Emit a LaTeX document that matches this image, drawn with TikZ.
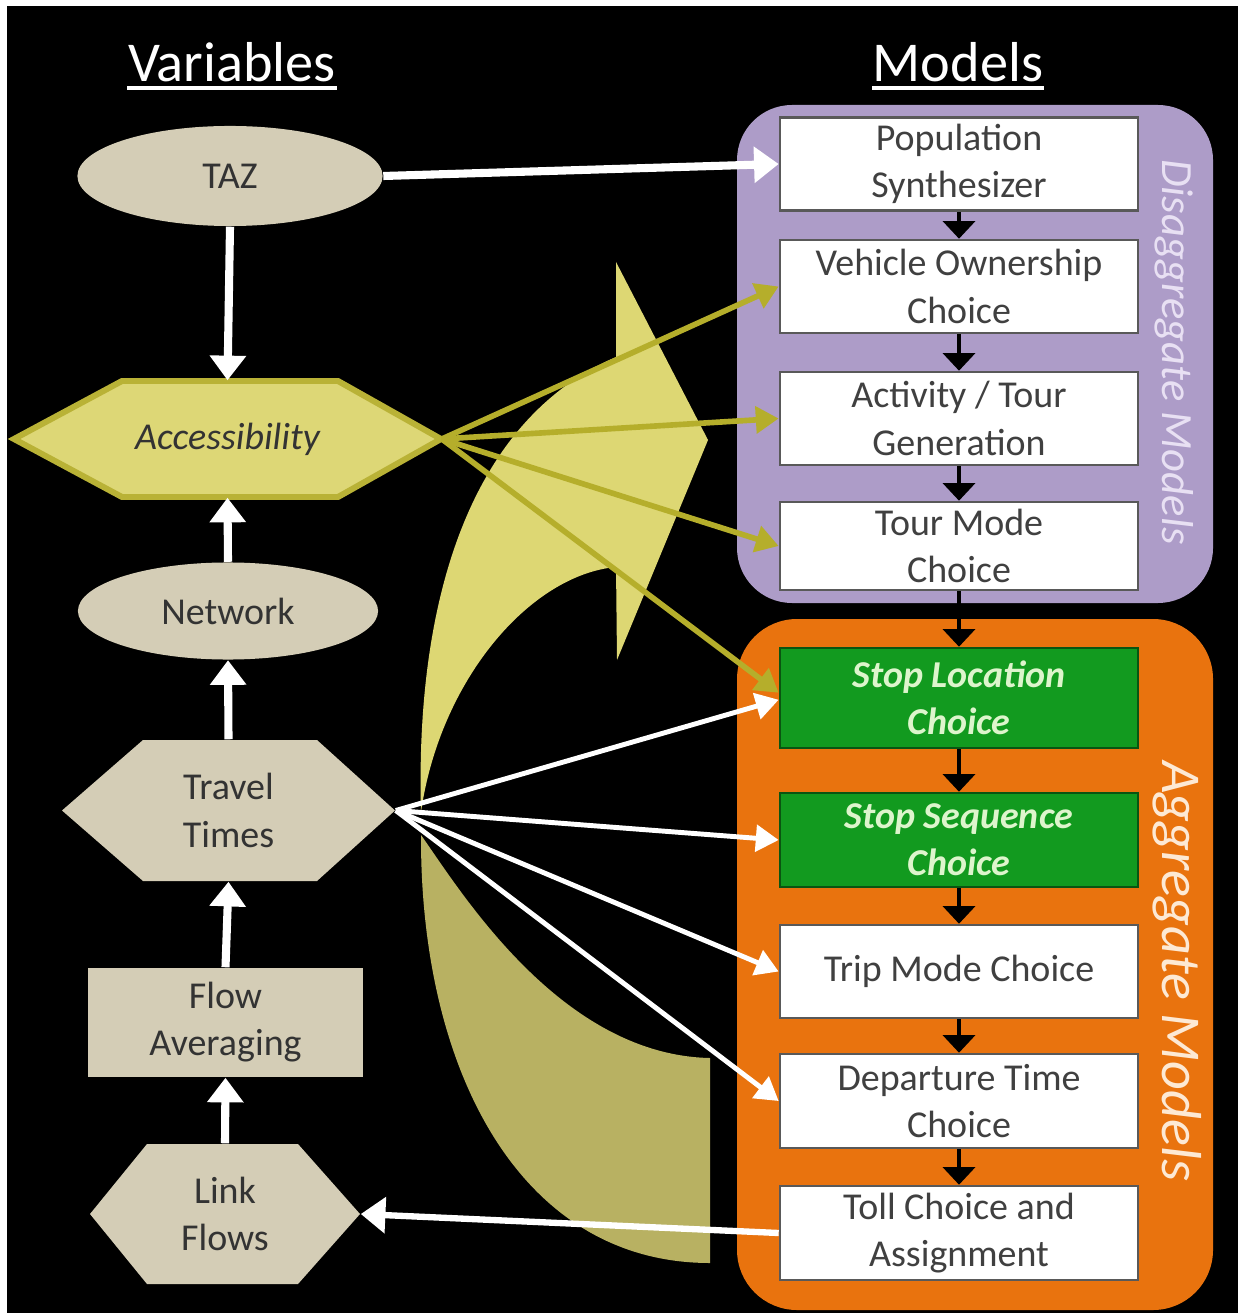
\documentclass[tikz,border=0pt]{standalone}
\usepackage{fontspec}
\setmainfont{Carlito}
\definecolor{tanfill}{HTML}{D4CDB6}
\definecolor{accfill}{HTML}{DDD776}
\definecolor{accline}{HTML}{B9B236}
\definecolor{olive}{HTML}{B5AE2B}
\definecolor{swooshlight}{HTML}{DDD773}
\definecolor{swooshdark}{HTML}{B8B162}
\definecolor{disagg}{HTML}{AD9CC8}
\definecolor{disaggtext}{HTML}{E8E0F3}
\definecolor{agg}{HTML}{E9730E}
\definecolor{aggtext}{HTML}{FDE9D4}
\definecolor{modelgreen}{HTML}{129A1F}
\definecolor{greentext}{HTML}{DDF5CC}
\definecolor{boxline}{HTML}{595959}
\definecolor{boxtext}{HTML}{404040}
\definecolor{vartext}{HTML}{333333}
\usetikzlibrary{arrows.meta, shapes.geometric}

\begin{document}
\begin{tikzpicture}[x=0.01cm, y=-0.01cm,
  title/.style={text=white, font=\fontsize{16}{19}\selectfont, inner sep=0pt, anchor=base},
  modelbox/.style={draw=boxline, line width=0.7pt, fill=white, minimum width=3.58cm, minimum height=0.93cm,
    inner sep=0pt, align=center, text=boxtext, font=\fontsize{10.8}{13.4}\selectfont},
  greenbox/.style={modelbox, fill=modelgreen, draw=modelgreen!55!black, text=greentext,
    font=\fontsize{10.8}{13.4}\selectfont\bfseries\itshape},
  varnode/.style={inner sep=0pt, align=center, text=vartext, font=\fontsize{10.8}{13.4}\selectfont},
  fatarrow/.style={white, line width=2.3pt, -{Triangle[width=10pt,length=7pt]}},
  thinarrow/.style={white, line width=1.4pt, -{Triangle[width=7.5pt,length=6.5pt]}},
  olivearrow/.style={olive, line width=1.6pt, -{Triangle[width=7.5pt,length=6.5pt]}},
  steparrow/.style={black, line width=1.4pt, -{Triangle[width=9pt,length=5pt]}}
]
  \useasboundingbox (0,0) rectangle (1238,1313);
  \fill[white] (0,0) rectangle (1238,1313);
  \fill[black] (7,6) rectangle (1238,1313);

  % big curved arrow behind everything
  \fill[swooshlight] (616,262) -- (708,440) -- (617,660) -- (616,567)
    .. controls (530,575) and (440,680) .. (421,812)
    .. controls (415,600) and (470,420) .. (616,357) -- cycle;
  \fill[swooshdark] (421,835) .. controls (460,890) and (560,1055) .. (710,1058)
    -- (710,1263) .. controls (520,1263) and (420,1070) .. (421,835) -- cycle;

  % titles
  \node[title] (vars) at (232,82) {Variables};
  \draw[white, line width=0.9pt] ([yshift=-1.7pt]vars.base west) -- ([yshift=-1.7pt]vars.base east);
  \node[title] (mods) at (958,82) {Models};
  \draw[white, line width=0.9pt] ([yshift=-1.7pt]mods.base west) -- ([yshift=-1.7pt]mods.base east);

  % model groups
  \fill[disagg, rounded corners=0.55cm] (737,105) rectangle (1213,603);
  \fill[agg, rounded corners=0.6cm] (737,619) rectangle (1213,1310);
  \node[rotate=-90, text=disaggtext, font=\fontsize{12.7}{15}\selectfont\itshape] (dlabel) at (1174,352) {Disaggregate Models};
  \node[rotate=-90, text=aggtext, font=\fontsize{16}{19}\selectfont\itshape] (alabel) at (1177,971) {Aggregate Models};

  % model boxes
  \node[modelbox] (pop) at (959,164) {Population\\Synthesizer};
  \node[modelbox] (veh) at (959,286.5) {Vehicle Ownership\\Choice};
  \node[modelbox] (act) at (959,418.5) {Activity / Tour\\Generation};
  \node[modelbox, minimum height=0.88cm] (tmode) at (959,546) {Tour Mode\\Choice};
  \node[greenbox, minimum height=1cm] (sloc) at (959,698) {Stop Location\\Choice};
  \node[greenbox, minimum height=0.94cm] (sseq) at (959,840) {Stop Sequence\\Choice};
  \node[modelbox] (trip) at (959,971.5) {Trip Mode Choice};
  \node[modelbox, minimum height=0.94cm] (dep) at (959,1101) {Departure Time\\Choice};
  \node[modelbox, minimum height=0.94cm] (toll) at (959,1233) {Toll Choice and\\Assignment};

  % variables (hexagons drawn first, text nodes on top)
  \filldraw[fill=accfill, draw=accline, line width=1.7pt]
    (14,439) -- (122,381) -- (338,381) -- (441,439) -- (338,497) -- (122,497) -- cycle;
  \fill[tanfill] (62,810.5) -- (143,740) -- (317,740) -- (395,810.5) -- (317,881) -- (143,881) -- cycle;
  \fill[tanfill] (90,1214) -- (147,1144) -- (298,1144) -- (360,1214) -- (298,1284) -- (147,1284) -- cycle;

  \node[varnode, fill=tanfill, ellipse, minimum width=3.05cm, minimum height=1.0cm] (taz) at (230,176) {TAZ};
  \node[varnode, minimum width=4.27cm, minimum height=1.16cm, font=\fontsize{10.8}{13.4}\selectfont\itshape]
    (acc) at (227.5,439) {Accessibility};
  \node[varnode, fill=tanfill, ellipse, minimum width=3.0cm, minimum height=0.97cm] (net) at (228,611) {Network};
  \node[varnode, minimum width=3.33cm, minimum height=1.41cm] (tt) at (228.5,810.5) {Travel\\Times};
  \node[varnode, fill=tanfill, minimum width=2.75cm, minimum height=1.09cm] (flow) at (225.5,1022.5) {Flow\\Averaging};
  \node[varnode, minimum width=2.70cm, minimum height=1.40cm] (link) at (225,1214) {Link\\Flows};

  % travel times feed the aggregate models
  \draw[thinarrow] (tt.east) -- ([yshift=-0.5pt]sloc.west);
  \draw[thinarrow] (tt.east) -- (sseq.west);
  \draw[thinarrow] (tt.east) -- (trip.west);
  \draw[thinarrow] (tt.east) -- (dep.west);

  % accessibility feeds the choice models
  \draw[olivearrow] (acc.east) -- (veh.west);
  \draw[olivearrow] (acc.east) -- (act.west);
  \draw[olivearrow] (acc.east) -- (tmode.west);
  \draw[olivearrow] (acc.east) -- ([yshift=1.5pt]sloc.west);

  % variable loop
  \draw[fatarrow] (taz.south) -- (acc.north);
  \draw[fatarrow] (net.north) -- (acc.south);
  \draw[fatarrow] (tt.north) -- (net.south);
  \draw[fatarrow] (flow.north) -- (tt.south);
  \draw[fatarrow] (link.north) -- (flow.south);
  \draw[fatarrow] (taz.east) -- (pop.west);
  \draw[fatarrow, line width=1.8pt] (toll.west) -- (link.east);

  % model sequence
  \foreach \a/\b in {pop/veh, veh/act, act/tmode, tmode/sloc, sloc/sseq, sseq/trip, trip/dep, dep/toll}
    \draw[steparrow] (\a) -- (\b);
\end{tikzpicture}
\end{document}
